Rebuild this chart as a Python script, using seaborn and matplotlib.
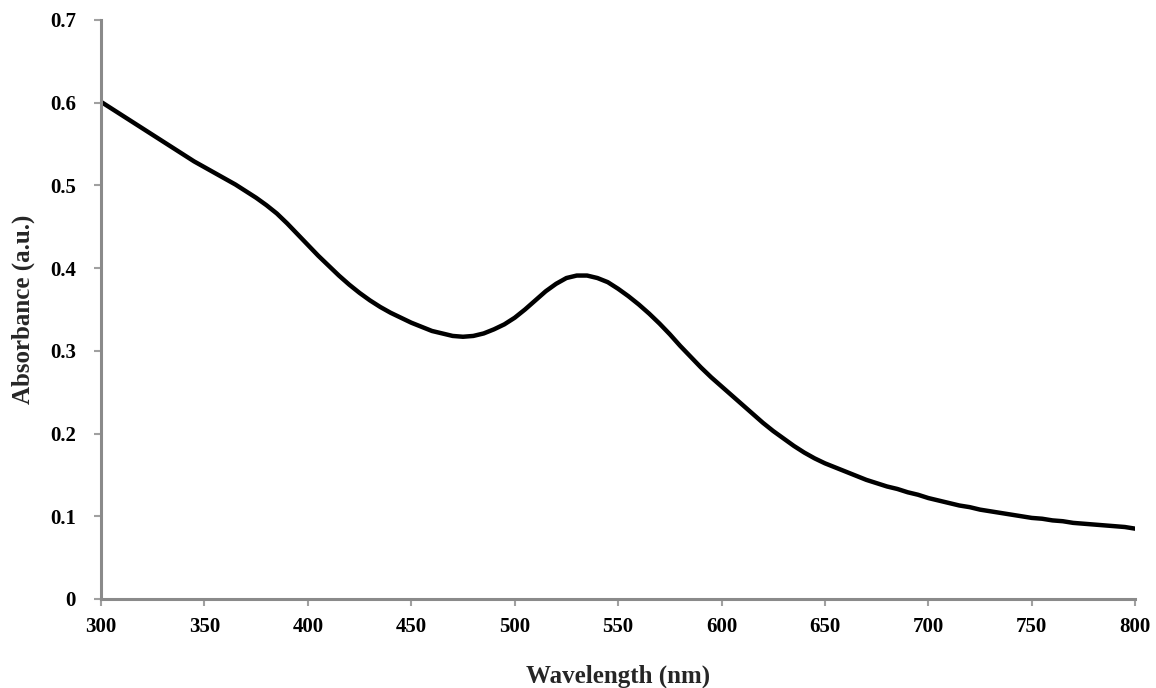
import matplotlib
matplotlib.use("Agg")
import matplotlib.pyplot as plt
import seaborn as sns
import pandas as pd

wavelength = list(range(300, 801, 5))
absorbance = [0.601, 0.593, 0.585, 0.577, 0.569, 0.561, 0.553, 0.545, 0.537, 0.529,
              0.522, 0.515, 0.508, 0.501, 0.493, 0.485, 0.476, 0.466, 0.454, 0.441,
              0.428, 0.415, 0.403, 0.391, 0.380, 0.370, 0.361, 0.353, 0.346, 0.340,
              0.334, 0.329, 0.324, 0.321, 0.318, 0.317, 0.318, 0.321, 0.326, 0.332,
              0.340, 0.350, 0.361, 0.372, 0.381, 0.388, 0.391, 0.391, 0.388, 0.383,
              0.375, 0.366, 0.356, 0.345, 0.333, 0.320, 0.306, 0.293, 0.280, 0.268,
              0.257, 0.246, 0.235, 0.224, 0.213, 0.203, 0.194, 0.185, 0.177, 0.170,
              0.164, 0.159, 0.154, 0.149, 0.144, 0.140, 0.136, 0.133, 0.129, 0.126,
              0.122, 0.119, 0.116, 0.113, 0.111, 0.108, 0.106, 0.104, 0.102, 0.100,
              0.098, 0.097, 0.095, 0.094, 0.092, 0.091, 0.090, 0.089, 0.088, 0.087, 0.085]
x_ticks = [300, 350, 400, 450, 500, 550, 600, 650, 700, 750, 800]
y_ticks = [0, 0.1, 0.2, 0.3, 0.4, 0.5, 0.6, 0.7]
y_tick_labels = ["0", "0.1", "0.2", "0.3", "0.4", "0.5", "0.6", "0.7"]

sns.set_style("white")
plt.rcParams['font.family'] = ['Liberation Serif', 'DejaVu Serif']
plt.rcParams['font.weight'] = 'bold'

df = pd.DataFrame({"Wavelength": wavelength, "Absorbance": absorbance})

fig = plt.figure(figsize=(11.56, 6.88), dpi=100)
ax = fig.add_axes([0.0874, 0.1294, 0.8946, 0.8416])
sns.lineplot(data=df, x="Wavelength", y="Absorbance", ax=ax, color="black",
             linewidth=3.2, solid_joinstyle='round', solid_capstyle='round')

ax.set_xlim(300, 800)
ax.set_ylim(0, 0.7)
ax.set_xticks(x_ticks)
ax.set_xticklabels([str(v) for v in x_ticks], fontsize=15, fontweight='bold')
ax.set_yticks(y_ticks)
ax.set_yticklabels(y_tick_labels, fontsize=15, fontweight='bold')

for s in ["top", "right"]:
    ax.spines[s].set_visible(False)
for s in ["left", "bottom"]:
    ax.spines[s].set_visible(True)
    ax.spines[s].set_color("#8a8a8a")
    ax.spines[s].set_linewidth(2.2)

ax.tick_params(axis='both', which='major', direction='out', length=5, width=1.5,
               color="#a0a0a0", labelcolor="black", bottom=True, left=True)
ax.tick_params(axis='y', pad=13)
ax.tick_params(axis='x', pad=8)

ax.set_xlabel("Wavelength (nm)", fontsize=18, fontweight='bold', labelpad=20)
ax.set_ylabel("Absorbance (a.u.)", fontsize=18, fontweight='bold', labelpad=11)

fig.savefig("out.png", dpi=100)
